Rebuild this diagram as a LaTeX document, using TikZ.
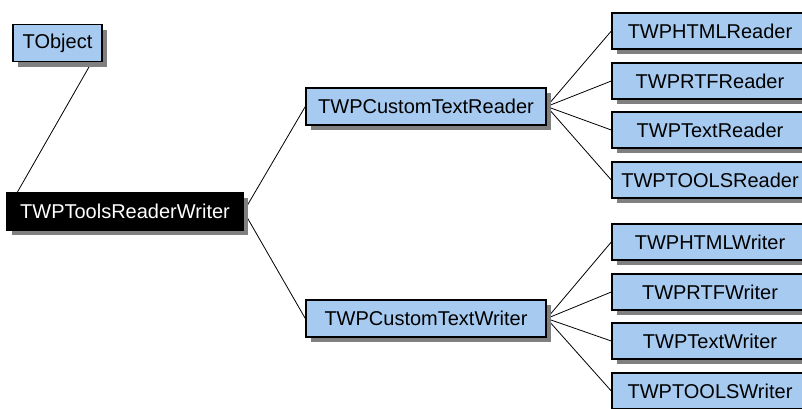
\documentclass[tikz,border=0pt]{standalone}
\usepackage{fontspec}
\setmainfont{Liberation Sans}
\usetikzlibrary{shadows,backgrounds}
\definecolor{skyblue}{HTML}{A6CAF0}
\definecolor{shadowgray}{HTML}{808080}
\tikzset{
  cls/.style={draw=black, line width=1.4pt, fill=skyblue, text=black,
    inner sep=0pt, rectangle, minimum height=37pt,
    font=\fontsize{20}{22}\selectfont,
    drop shadow={shadow xshift=5pt, shadow yshift=-5pt, fill=shadowgray, opacity=1}},
  root/.style={cls, fill=black, text=white},
  leaf/.style={cls, minimum width=196pt, minimum height=36pt},
  link/.style={draw=black, line width=0.8pt}
}
\begin{document}
\begin{tikzpicture}[x=1pt,y=-1pt]
\useasboundingbox (0,0) rectangle (802,408);
\node[cls, minimum width=89pt] (tobject) at (57.5,43) {TObject};
\node[root, minimum width=236pt] (trw) at (125,211.5) {TWPToolsReaderWriter};
\node[cls, minimum width=240pt] (ctr) at (426,106.5) {TWPCustomTextReader};
\node[cls, minimum width=240pt] (ctw) at (426,318.5) {TWPCustomTextWriter};
\node[leaf] (r1) at (710,31) {TWPHTMLReader};
\node[leaf] (r2) at (710,81) {TWPRTFReader};
\node[leaf] (r3) at (710,130) {TWPTextReader};
\node[leaf] (r4) at (710,180) {TWPTOOLSReader};
\node[leaf] (w1) at (710,242) {TWPHTMLWriter};
\node[leaf] (w2) at (710,292) {TWPRTFWriter};
\node[leaf] (w3) at (710,341) {TWPTextWriter};
\node[leaf] (w4) at (710,391) {TWPTOOLSWriter};
\begin{pgfonlayer}{background}
\fill[white] (0,0) rectangle (802,408);
\draw[link] (tobject.east) -- (trw.west);
\draw[link] (trw.east) -- (ctr.west);
\draw[link] (trw.east) -- (ctw.west);
\foreach \n in {r1,r2,r3,r4} \draw[link] (ctr.east) -- (\n.west);
\foreach \n in {w1,w2,w3,w4} \draw[link] (ctw.east) -- (\n.west);
\end{pgfonlayer}
\end{tikzpicture}
\end{document}
